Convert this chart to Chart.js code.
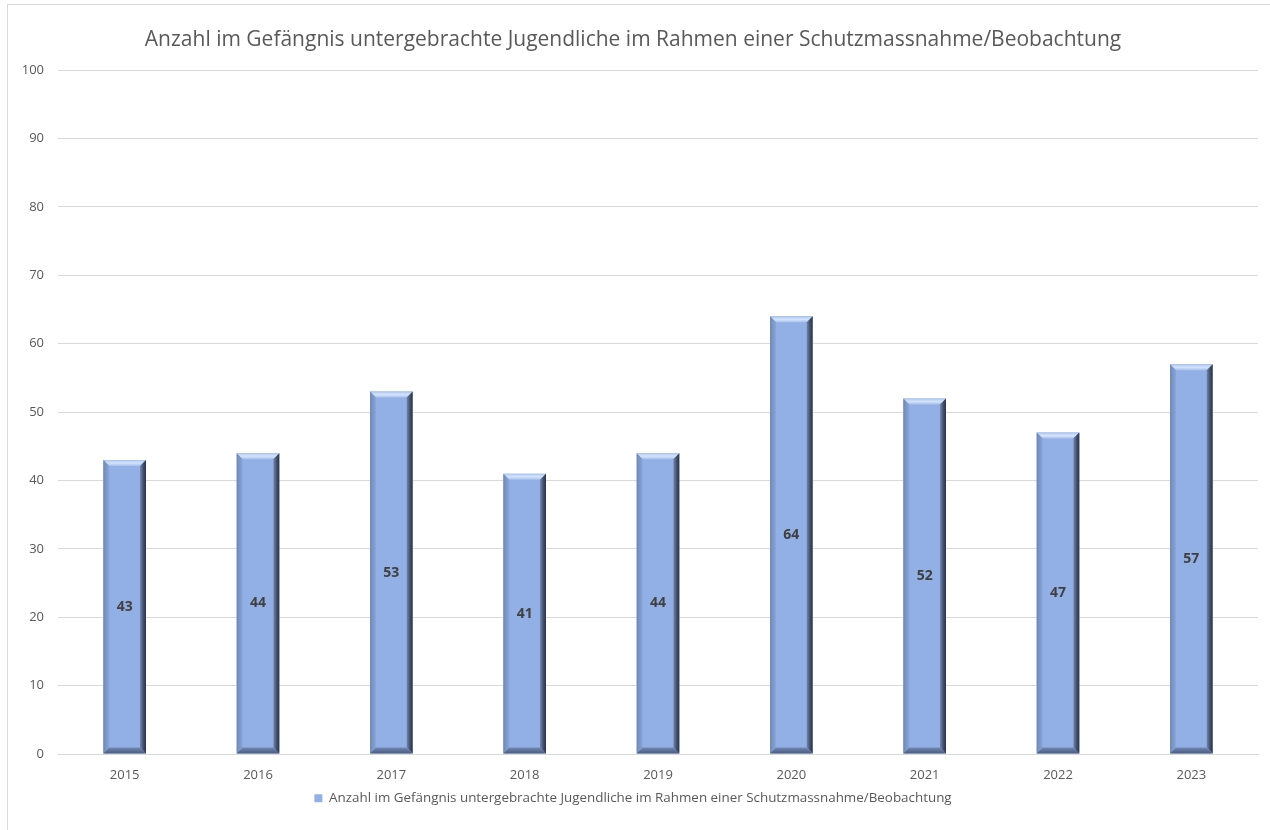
<!DOCTYPE html>
<html>
<head>
<meta charset="utf-8">
<script src="https://cdn.jsdelivr.net/npm/chart.js@4/dist/chart.umd.min.js"></script>
<style>
  html, body { margin: 0; padding: 0; background: #fff; }
  #wrap { position: absolute; left: 0; top: 0; width: 1270px; height: 830px; }
  #frame { position: absolute; left: 7px; top: 4px; width: 1280px; height: 840px;
           border-left: 1px solid #d9d9d9; border-top: 1px solid #d9d9d9; }
</style>
</head>
<body>
<div id="wrap">
  <div id="frame"></div>
  <canvas id="jugendChart" width="1270" height="830"></canvas>
</div>
<script>
const YEARS = ['2015', '2016', '2017', '2018', '2019', '2020', '2021', '2022', '2023']
const JUGENDLICHE = [43, 44, 53, 41, 44, 64, 52, 47, 57]
const TITLE = 'Anzahl im Gefängnis untergebrachte Jugendliche im Rahmen einer Schutzmassnahme/Beobachtung'

const FONT = "'Open Sans', 'Noto Sans', sans-serif"
const TEXT_GREY = '#595959'
const BAR_BLUE = '#93b0e6'

// bevelled bar look, like the office "bevel" effect
const bevelPlugin = {
  id: 'bevel',
  afterDatasetsDraw(chart) {
    const ctx = chart.ctx
    const b = 6
    chart.getDatasetMeta(0).data.forEach(bar => {
      const w = bar.width
      const x0 = bar.x - w / 2, x1 = bar.x + w / 2
      const y0 = bar.y, y1 = bar.base
      ctx.save()
      // top
      let g = ctx.createLinearGradient(0, y0, 0, y0 + b)
      g.addColorStop(0, '#a9c2ee')
      g.addColorStop(0.5, '#d6e4fa')
      g.addColorStop(1, '#a8c0ec')
      ctx.fillStyle = g
      ctx.beginPath()
      ctx.moveTo(x0, y0); ctx.lineTo(x1, y0); ctx.lineTo(x1 - b, y0 + b); ctx.lineTo(x0 + b, y0 + b)
      ctx.closePath(); ctx.fill()
      // right
      g = ctx.createLinearGradient(x1 - b, 0, x1, 0)
      g.addColorStop(0, '#7489b2')
      g.addColorStop(0.6, '#3e4c68')
      g.addColorStop(1, '#2c3549')
      ctx.fillStyle = g
      ctx.beginPath()
      ctx.moveTo(x1, y0); ctx.lineTo(x1, y1); ctx.lineTo(x1 - b, y1 - b); ctx.lineTo(x1 - b, y0 + b)
      ctx.closePath(); ctx.fill()
      // left
      g = ctx.createLinearGradient(x0, 0, x0 + b, 0)
      g.addColorStop(0, '#7088b2')
      g.addColorStop(1, '#8aa6da')
      ctx.fillStyle = g
      ctx.beginPath()
      ctx.moveTo(x0, y0); ctx.lineTo(x0 + b, y0 + b); ctx.lineTo(x0 + b, y1 - b); ctx.lineTo(x0, y1)
      ctx.closePath(); ctx.fill()
      // bottom
      g = ctx.createLinearGradient(0, y1 - b, 0, y1)
      g.addColorStop(0, '#7289b4')
      g.addColorStop(1, '#4a5b7c')
      ctx.fillStyle = g
      ctx.beginPath()
      ctx.moveTo(x0, y1); ctx.lineTo(x0 + b, y1 - b); ctx.lineTo(x1 - b, y1 - b); ctx.lineTo(x1, y1)
      ctx.closePath(); ctx.fill()
      ctx.restore()
    })
  }
}

// value labels in the middle of each bar
const valueLabels = {
  id: 'valueLabels',
  afterDatasetsDraw(chart) {
    const ctx = chart.ctx
    const ds = chart.data.datasets[0]
    ctx.save()
    ctx.font = "bold 14px " + FONT
    ctx.fillStyle = '#404040'
    ctx.textAlign = 'center'
    ctx.textBaseline = 'middle'
    chart.getDatasetMeta(0).data.forEach((bar, i) => {
      ctx.fillText(ds.data[i], bar.x, (bar.y + bar.base) / 2)
    })
    ctx.restore()
  }
}

var jugendData = {
  labels: YEARS,
  datasets: [{
    label: TITLE,
    data: JUGENDLICHE,
    backgroundColor: BAR_BLUE,
    borderWidth: 0,
    barPercentage: 1,
    categoryPercentage: 0.32
  }]
}

var jugendOptions = {
  responsive: false,
  animation: false,
  layout: {
    padding: { left: 8, right: 12, top: 4, bottom: 15 }
  },
  scales: {
    x: {
      grid: { display: false },
      border: { color: '#d9d9d9' },
      ticks: { color: TEXT_GREY, font: { family: FONT, size: 13 }, padding: 5 }
    },
    y: {
      min: 0,
      max: 100,
      afterFit: (scale) => { scale.width = 50 },
      grid: { color: '#d9d9d9', drawTicks: false },
      border: { display: false },
      ticks: { stepSize: 10, color: TEXT_GREY, font: { family: FONT, size: 13 }, padding: 14 }
    }
  },
  plugins: {
    title: {
      display: true,
      text: TITLE,
      color: TEXT_GREY,
      font: { family: FONT, size: 21, weight: 'normal' },
      padding: { top: 23, bottom: 18 }
    },
    legend: {
      display: true,
      position: 'bottom',
      labels: {
        color: TEXT_GREY,
        font: { family: FONT, size: 13.4 },
        boxWidth: 8,
        boxHeight: 8,
        padding: 4
      }
    },
    tooltip: { enabled: false }
  }
}

var jugendCtx = document.getElementById('jugendChart')

const jugendChart = new Chart(jugendCtx, {
  type: 'bar',
  data: jugendData,
  plugins: [bevelPlugin, valueLabels],
  options: jugendOptions
})
</script>
</body>
</html>
